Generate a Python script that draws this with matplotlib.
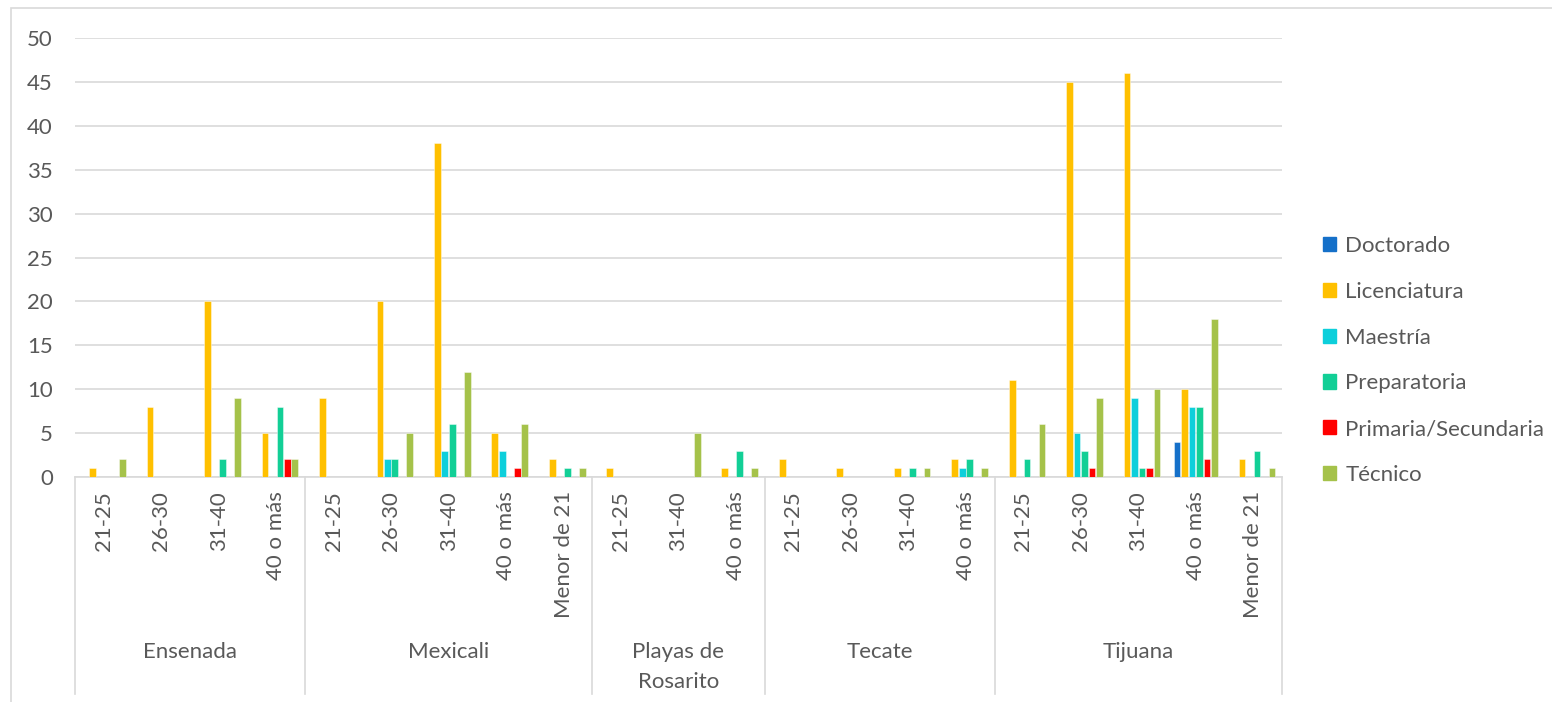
import matplotlib
matplotlib.use("Agg")
import matplotlib.pyplot as plt
from matplotlib.patches import Rectangle
from matplotlib.lines import Line2D
import numpy as np

# ---- data ----
cities = ["Ensenada", "Mexicali", "Playas de\nRosarito", "Tecate", "Tijuana"]
ages_ensenada = ["21-25", "26-30", "31-40", "40 o más"]
ages_mexicali = ["21-25", "26-30", "31-40", "40 o más", "Menor de 21"]
ages_playas = ["21-25", "31-40", "40 o más"]
ages_tecate = ["21-25", "26-30", "31-40", "40 o más"]
ages_tijuana = ["21-25", "26-30", "31-40", "40 o más", "Menor de 21"]
city_ages = [ages_ensenada, ages_mexicali, ages_playas, ages_tecate, ages_tijuana]

series_names = ["Doctorado", "Licenciatura", "Maestría", "Preparatoria",
                "Primaria/Secundaria", "Técnico"]
doctorado =    [0, 0, 0, 0,  0, 0, 0, 0, 0,  0, 0, 0,  0, 0, 0, 0,  0, 0, 0, 4, 0]
licenciatura = [1, 8, 20, 5,  9, 20, 38, 5, 2,  1, 0, 1,  2, 1, 1, 2,  11, 45, 46, 10, 2]
maestria =     [0, 0, 0, 0,  0, 2, 3, 3, 0,  0, 0, 0,  0, 0, 0, 1,  0, 5, 9, 8, 0]
preparatoria = [0, 0, 2, 8,  0, 2, 6, 0, 1,  0, 0, 3,  0, 0, 1, 2,  2, 3, 1, 8, 3]
primaria =     [0, 0, 0, 2,  0, 0, 0, 1, 0,  0, 0, 0,  0, 0, 0, 0,  0, 1, 1, 2, 0]
tecnico =      [2, 0, 9, 2,  0, 5, 12, 6, 1,  0, 5, 1,  0, 0, 1, 1,  6, 9, 10, 18, 1]
series_values = [doctorado, licenciatura, maestria, preparatoria, primaria, tecnico]
colors = ["#1570C9", "#FFC000", "#0DCFDB", "#12CF96", "#FF0000", "#A5C24A"]

FONT = "Lato"
TXT = "#595959"
GRID = "#D9D9D9"
FS = 16

W, H = 1552, 702
fig = plt.figure(figsize=(W / 100, H / 100), dpi=100)
fig.patch.set_facecolor("white")

# outer chart frame
fig.patches.append(Rectangle((11 / W, -0.1), 2.0, (1 - 8 / H) + 0.1, transform=fig.transFigure,
                             fill=False, edgecolor=GRID, lw=1.2))

ax = fig.add_axes([75 / W, 1 - 477 / H, (1282 - 75) / W, (477 - 38) / H])

n_slots = len(doctorado)
x = np.arange(n_slots) + 0.5
pitch = 0.13
bw = 0.118
for i, (name, vals, c) in enumerate(zip(series_names, series_values, colors)):
    off = (i - 2.5) * pitch
    ax.bar(x + off, vals, width=bw, color=c, label=name, zorder=3,
           edgecolor=(1, 1, 1, 0.5), linewidth=0.6)

ax.set_xlim(0, n_slots)
ax.set_ylim(0, 50)
ax.set_yticks(range(0, 51, 5))
ax.yaxis.grid(True, color=GRID, lw=1.2, zorder=0)
ax.set_axisbelow(True)
for s in ["top", "right", "left"]:
    ax.spines[s].set_visible(False)
ax.spines["bottom"].set_color(GRID)
ax.spines["bottom"].set_linewidth(1.2)
ax.tick_params(axis="y", length=0, pad=16, labelsize=FS, labelcolor=TXT)
for t in ax.get_yticklabels():
    t.set_fontfamily(FONT)
ax.set_xticks([])

tr = ax.get_xaxis_transform()
ax_h = 477 - 38
# age labels
labels = [a for ages in city_ages for a in ages]
for xi, lab in zip(x, labels):
    ax.text(xi, -14 / ax_h, lab, rotation=90, ha="center", va="top", transform=tr,
            fontsize=FS, color=TXT, fontfamily=FONT, clip_on=False)

# group separators and labels
start = 0
bounds = [0]
for city, ages in zip(cities, city_ages):
    end = start + len(ages)
    ax.text((start + end) / 2, -(642 - 477) / ax_h, city, ha="center", va="top",
            transform=tr, fontsize=FS, color=TXT, fontfamily=FONT, clip_on=False,
            linespacing=1.6)
    bounds.append(end)
    start = end
for b in bounds:
    ax.add_line(Line2D([b, b], [0, -(694 - 477) / ax_h], transform=tr, color=GRID,
                       lw=1.2, clip_on=False))

# legend
handles = [Rectangle((0, 0), 1, 1, color=c) for c in colors]
leg = fig.legend(handles, series_names, loc="upper left",
                 bbox_to_anchor=(1323 / W, 1 - 236 / H), frameon=False,
                 prop={"family": FONT, "size": FS}, labelcolor=TXT,
                 handlelength=0.6, handleheight=0.6, handletextpad=0.4,
                 labelspacing=1.16, borderpad=0, borderaxespad=0)

fig.savefig("out.png", dpi=100, facecolor="white")
